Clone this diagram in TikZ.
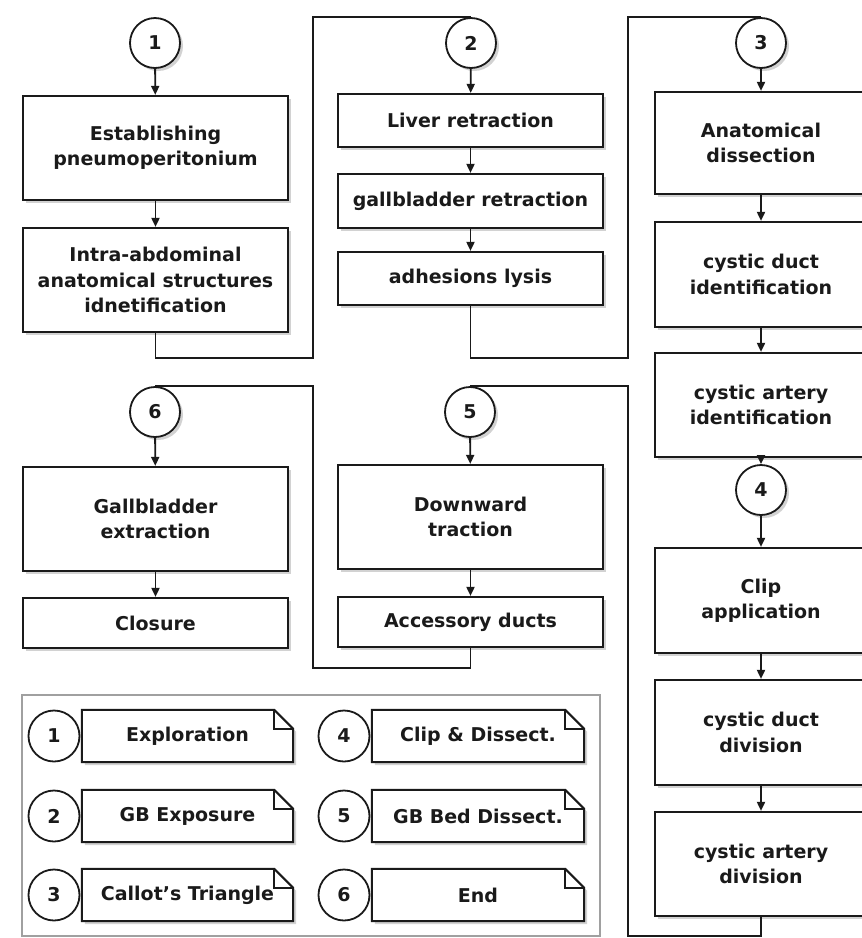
\documentclass[tikz,border=0pt]{standalone}
\usepackage{fontspec}
\setmainfont{DejaVu Sans}
\usetikzlibrary{arrows.meta,shadows,calc}
\definecolor{ink}{HTML}{1A1A1A}
\definecolor{frame}{HTML}{A0A0A0}
\begin{document}
\begin{tikzpicture}[x=1pt,y=-1pt,
  font=\fontsize{19}{25.5}\selectfont\bfseries,
  shade/.style={drop shadow={shadow xshift=3pt,shadow yshift=-3pt,opacity=0.35}},
  box/.style={draw=ink,line width=2.2pt,fill=white,minimum width=265pt,align=center,inner sep=2pt,text=ink,shade},
  rbox/.style={box,minimum width=212pt},
  circ/.style={circle,draw=ink,line width=1.8pt,fill=white,minimum size=50pt,inner sep=0pt,text=ink,shade},
  lcirc/.style={circle,draw=ink,line width=1.8pt,fill=white,minimum size=51pt,inner sep=0pt,text=ink},
  arr/.style={draw=ink,line width=1.8pt,-{Triangle[length=9pt,width=8pt]}},
  conn/.style={draw=ink,line width=1.8pt},
  notetext/.style={minimum height=52pt,inner sep=0pt,text=ink},
  noteline/.style={draw=ink,line width=2pt,fill=white,shade},
  foldline/.style={draw=ink,line width=1.5pt}
]
\useasboundingbox (0,0) rectangle (862,938);
\fill[white] (0,0) rectangle (862,938);

% ---------- column 1 (top) ----------
\node[circ] (c1) at (155,43) {1};
\node[box,minimum height=104pt] (A1) at (155.5,148) {Establishing\\pneumoperitonium};
\node[box,minimum height=104pt] (A2) at (155.5,280) {Intra-abdominal\\anatomical structures\\idnetification};

% ---------- column 2 (top) ----------
\node[circ] (c2) at (471,43) {2};
\node[box,minimum height=53pt] (B1) at (470.5,120.5) {Liver retraction};
\node[box,minimum height=54pt] (B2) at (470.5,201) {gallbladder retraction};
\node[box,minimum height=53pt] (B3) at (470.5,278.5) {adhesions lysis};

% ---------- column 3 ----------
\node[circ] (c3) at (761,43) {3};
\node[rbox,minimum height=102pt] (C1) at (761,143) {Anatomical\\dissection};
\node[rbox,minimum height=105pt] (C2) at (761,274.5) {cystic duct\\identification};
\node[rbox,minimum height=104pt] (C3) at (761,405) {cystic artery\\identification};
\node[circ] (c4) at (761,490) {4};
\node[rbox,minimum height=105pt] (C4) at (761,600.5) {Clip\\application};
\node[rbox,minimum height=105pt] (C5) at (761,732.5) {cystic duct\\division};
\node[rbox,minimum height=104pt] (C6) at (761,864) {cystic artery\\division};

% ---------- column 2 (bottom) ----------
\node[circ] (c5) at (470,412) {5};
\node[box,minimum height=104pt] (E1) at (470.5,517) {Downward\\traction};
\node[box,minimum height=50pt] (E2) at (470.5,622) {Accessory ducts};

% ---------- column 1 (bottom) ----------
\node[circ] (c6) at (155,412) {6};
\node[box,minimum height=104pt] (D1) at (155.5,519) {Gallbladder\\extraction};
\node[box,minimum height=50pt] (D2) at (155.5,623) {Closure};

% ---------- arrows ----------
\draw[arr] (c1) -- (A1);
\draw[arr] (A1) -- (A2);
\draw[arr] (c2) -- (B1);
\draw[arr] (B1) -- (B2);
\draw[arr] (B2) -- (B3);
\draw[arr] (c3) -- (C1);
\draw[arr] (C1) -- (C2);
\draw[arr] (C2) -- (C3);
\draw[arr] (C3) -- (c4);
\draw[arr] (c4) -- (C4);
\draw[arr] (C4) -- (C5);
\draw[arr] (C5) -- (C6);
\draw[arr] (c5) -- (E1);
\draw[arr] (E1) -- (E2);
\draw[arr] (c6) -- (D1);
\draw[arr] (D1) -- (D2);

% ---------- connectors between columns ----------
\coordinate (j1) at (313,358);
\coordinate (j2) at (628,358);
\coordinate (j3) at (628,936);
\coordinate (j4) at (313,668);
\draw[conn] (A2.south) |- (j1) |- (c2.north);
\draw[conn] (B3.south) |- (j2) |- (c3.north);
\draw[conn] (C6.south) |- (j3) |- (c5.north);
\draw[conn] (E2.south) |- (j4) |- (c6.north);

% ---------- legend ----------
\draw[frame,line width=1.4pt] (22,695) rectangle (600,936);

\foreach \n/\cx/\nx/\nw/\cy/\t in {
  1/54/187.5/211/736/Exploration,
  2/54/187.5/211/816/GB Exposure,
  3/54/187.5/211/895/Callot's Triangle,
  4/344/478/212/736/Clip \& Dissect.,
  5/344/478/212/816/GB Bed Dissect.,
  6/344/478/212/895/End}{
  \node[notetext,minimum width=\nw pt] (L\n) at (\nx,\cy) {};
  \filldraw[noteline] (L\n.north west) -- ($(L\n.north east)+(-19,0)$) -- ($(L\n.north east)+(0,19)$) -- (L\n.south east) -- (L\n.south west) -- cycle;
  \draw[foldline] ($(L\n.north east)+(-19,0)$) |- ($(L\n.north east)+(0,19)$);
  \node[text=ink] (T\n) at (L\n.center) {\t};
  \node[lcirc] (K\n) at (\cx,\cy) {\n};
}
\end{tikzpicture}
\end{document}
